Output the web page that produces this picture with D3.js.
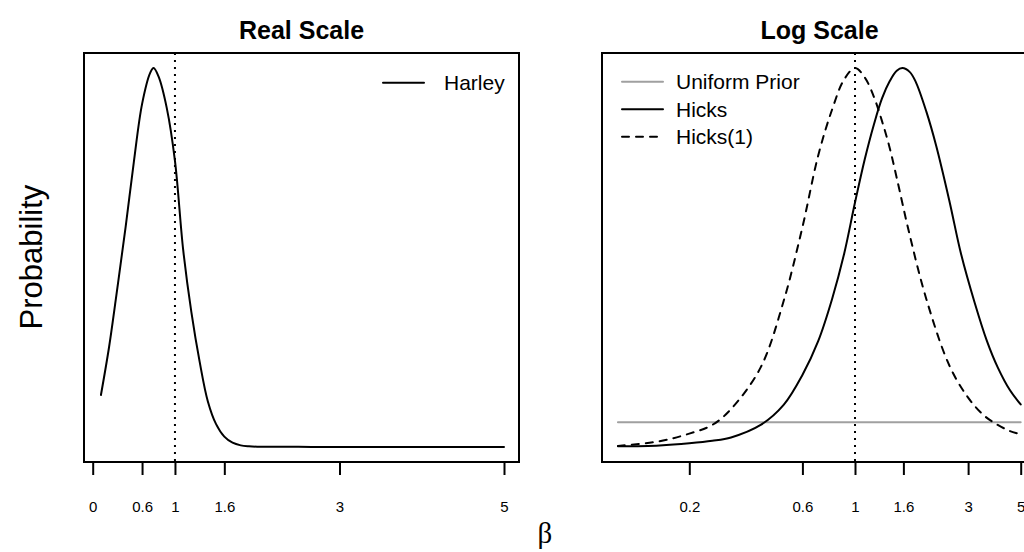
<!DOCTYPE html>
<html>
<head>
<meta charset="utf-8">
<script src="https://cdn.jsdelivr.net/npm/d3@7"></script>
<style>
  html, body { margin: 0; padding: 0; background: #fff; }
  svg { display: block; font-family: "Liberation Sans", Arial, Helvetica, sans-serif; }
</style>
</head>
<body>
<svg id="chart" width="1024" height="552"></svg>
<script>
// Harley posterior on the natural scale of beta
const harleyBeta = [0.1, 0.2, 0.3, 0.4, 0.5, 0.6, 0.7, 0.74, 0.8, 0.9, 1.0, 1.1, 1.2, 1.3, 1.4, 1.5, 1.6, 1.7, 1.8, 1.9, 2.0, 2.5, 3, 4, 5];
const harleyProb = [0.137, 0.265, 0.42, 0.58, 0.752, 0.905, 0.988, 1.0, 0.978, 0.895, 0.755, 0.52, 0.355, 0.225, 0.12, 0.06, 0.027, 0.011, 0.004, 0.0015, 0.0005, 0.0001, 0, 0, 0];

// Hicks posteriors on the log scale of beta
const hicksBeta = [0.1, 0.15, 0.2, 0.25, 0.3, 0.4, 0.5, 0.6, 0.7, 0.8, 0.9, 1.0, 1.1, 1.2, 1.3, 1.4, 1.5, 1.585, 1.7, 1.8, 2.0, 2.2, 2.5, 2.8, 3.2, 3.6, 4.0, 4.5, 5.0];
const hicksProb = [0.0016, 0.004, 0.0095, 0.016, 0.025, 0.058, 0.111, 0.19, 0.28, 0.39, 0.51, 0.645, 0.76, 0.85, 0.92, 0.965, 0.993, 1.0, 0.99, 0.965, 0.885, 0.795, 0.65, 0.51, 0.38, 0.28, 0.21, 0.15, 0.112];

const hicks1Beta = [0.1, 0.15, 0.2, 0.25, 0.3, 0.4, 0.5, 0.6, 0.7, 0.8, 0.9, 1.0, 1.1, 1.2, 1.3, 1.4, 1.5, 1.7, 2.0, 2.5, 3.0, 3.5, 4.0, 4.5, 5.0];
const hicks1Prob = [0.0025, 0.015, 0.035, 0.058, 0.10, 0.21, 0.385, 0.58, 0.77, 0.89, 0.97, 1.0, 0.975, 0.925, 0.86, 0.79, 0.71, 0.56, 0.39, 0.215, 0.13, 0.083, 0.058, 0.042, 0.033];

const uniformBeta = [0.1, 5];
const uniformProb = [0.065, 0.065];

// Axis ticks
const realTicks = [0, 0.6, 1, 1.6, 3, 5];
const logTicks = [0.2, 0.6, 1, 1.6, 3, 5];

const svg = d3.select("#chart");

// Panel frames
const plotTop = 53, plotBottom = 462;
const leftBox = { x0: 84, x1: 519 };
const rightBox = { x0: 602, x1: 1037 };

const y = d3.scaleLinear().domain([0, 1]).range([446.9, 68.1]);
const xReal = d3.scaleLinear().domain([0, 5]).range([92.7, 504]);
const xLog = d3.scaleLog().domain([0.2, 5]).range([689.3, 1020.7]);

function frame(box) {
  svg.append("rect")
    .attr("x", box.x0).attr("y", plotTop)
    .attr("width", box.x1 - box.x0).attr("height", plotBottom - plotTop)
    .attr("fill", "none").attr("stroke", "#000").attr("stroke-width", 2);
}

function ticks(scale, values) {
  const g = svg.append("g").attr("transform", `translate(0,${plotBottom})`);
  const axis = d3.axisBottom(scale)
    .tickValues(values)
    .tickFormat(d => String(d))
    .tickSize(13)
    .tickPadding(26.5);
  g.call(axis);
  g.select(".domain").remove();
  g.selectAll(".tick line").attr("stroke", "#000").attr("stroke-width", 2);
  g.selectAll(".tick text")
    .attr("fill", "#000")
    .style("font-family", "'Liberation Sans', Arial, sans-serif")
    .style("font-size", "15px");
}

function curve(xs, ys, xScale, opts) {
  const pts = xs.map((v, i) => [v, ys[i]]);
  const line = d3.line()
    .x(d => xScale(d[0]))
    .y(d => y(d[1]))
    .curve(opts.interp || d3.curveCatmullRom.alpha(0.5));
  const p = svg.append("path")
    .datum(pts)
    .attr("d", line)
    .attr("fill", "none")
    .attr("stroke", opts.color || "#000")
    .attr("stroke-width", opts.width || 2)
    .attr("stroke-linecap", "round")
    .attr("stroke-linejoin", "round");
  if (opts.dash) p.attr("stroke-dasharray", opts.dash);
  return p;
}

function refLine(xScale) {
  svg.append("line")
    .attr("x1", xScale(1)).attr("x2", xScale(1))
    .attr("y1", plotTop).attr("y2", plotBottom)
    .attr("stroke", "#000").attr("stroke-width", 2)
    .attr("stroke-dasharray", "2,5");
}

function title(text, cx) {
  svg.append("text")
    .attr("x", cx).attr("y", 39)
    .attr("text-anchor", "middle")
    .style("font-size", "25px").style("font-weight", "bold")
    .text(text);
}

function legendItem(x1, x2, ly, tx, label, opts) {
  const l = svg.append("line")
    .attr("x1", x1).attr("x2", x2).attr("y1", ly).attr("y2", ly)
    .attr("stroke", opts.color || "#000").attr("stroke-width", 2)
    .attr("stroke-linecap", "round");
  if (opts.dash) l.attr("stroke-dasharray", opts.dash);
  svg.append("text")
    .attr("x", tx).attr("y", ly + 7.5)
    .style("font-size", "21px")
    .attr("fill", "#000")
    .text(label);
}

// Left panel: real scale
frame(leftBox);
ticks(xReal, realTicks);
refLine(xReal);
curve(harleyBeta, harleyProb, xReal, {});
title("Real Scale", (leftBox.x0 + leftBox.x1) / 2);
legendItem(383, 424, 82.7, 444, "Harley", {});

// Right panel: log scale
frame(rightBox);
ticks(xLog, logTicks);
refLine(xLog);
curve(uniformBeta, uniformProb, xLog, { color: "#a0a0a0", interp: d3.curveLinear });
curve(hicksBeta, hicksProb, xLog, {});
curve(hicks1Beta, hicks1Prob, xLog, { dash: "7,7" });
title("Log Scale", (rightBox.x0 + rightBox.x1) / 2);
legendItem(622, 663, 81.7, 676, "Uniform Prior", { color: "#a0a0a0" });
legendItem(622, 663, 109.2, 676, "Hicks", {});
legendItem(622, 663, 136.7, 676, "Hicks(1)", { dash: "7,7" });

// Shared axis labels
svg.append("text")
  .attr("transform", "translate(42,257) rotate(-90)")
  .attr("text-anchor", "middle")
  .style("font-size", "31px")
  .text("Probability");

svg.append("text")
  .attr("x", 545).attr("y", 543)
  .attr("text-anchor", "middle")
  .style("font-family", "'Liberation Serif', 'DejaVu Serif', serif")
  .style("font-size", "29px")
  .text("β");
</script>
</body>
</html>
